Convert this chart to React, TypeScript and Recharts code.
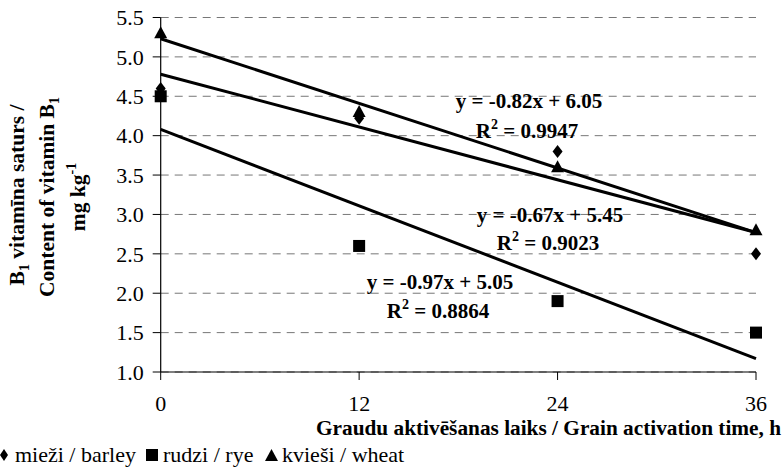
import React from 'react';
import { ComposedChart, Scatter, Line, XAxis, YAxis, CartesianGrid } from 'recharts';

const hours = [0, 12, 24, 36];
const barley = [4.6, 4.22, 3.8, 2.5];
const rye = [4.5, 2.6, 1.9, 1.5];
const wheat = [5.3, 4.3, 3.6, 2.8];

// trend line ends (at 0 h and 36 h)
const trendHours = [0, 36];
const barleyTrend = [4.78, 2.77];
const ryeTrend = [4.08, 1.17];
const wheatTrend = [5.23, 2.77];

const yTicks = [1.0, 1.5, 2.0, 2.5, 3.0, 3.5, 4.0, 4.5, 5.0, 5.5];

const toPoints = (xs: number[], ys: number[]) => xs.map((x, i) => ({ x, y: ys[i] }));

const FONT = 'Liberation Serif';

const Diamond = ({ cx, cy }: any) => (
  <path d={`M${cx},${cy - 6.5} L${cx + 5},${cy} L${cx},${cy + 6.5} L${cx - 5},${cy} Z`} fill="#000" />
);
const Square = ({ cx, cy }: any) => <rect x={cx - 6} y={cy - 6} width={12} height={12} fill="#000" />;
const Triangle = ({ cx, cy }: any) => (
  <path d={`M${cx},${cy - 7} L${cx + 6.5},${cy + 5} L${cx - 6.5},${cy + 5} Z`} fill="#000" />
);

const eqStyle: React.CSSProperties = { fontFamily: FONT, fontWeight: 'bold', fontSize: 21 };

export default function App() {
  return (
    <div style={{ position: 'absolute', left: 0, top: 0, width: 783, height: 468, background: '#fff' }}>
      <ComposedChart
        width={783}
        height={468}
        margin={{ top: 17.5, right: 27, left: 100, bottom: 40 }}
      >
        <CartesianGrid vertical={false} stroke="#777" strokeDasharray="8 6" />
        <XAxis
          type="number"
          dataKey="x"
          domain={[0, 36]}
          ticks={hours}
          height={56}
          axisLine={{ stroke: '#000', strokeWidth: 1.2 }}
          tickLine={{ stroke: '#000' }}
          tickSize={8}
          tickMargin={15}
          tick={{ fill: '#000', fontFamily: FONT, fontSize: 22 }}
        />
        <YAxis
          type="number"
          domain={[1, 5.5]}
          ticks={yTicks}
          width={60.7}
          axisLine={{ stroke: '#000', strokeWidth: 1.2 }}
          tickLine={{ stroke: '#000' }}
          tickSize={8}
          tickMargin={9}
          tickFormatter={(v: number) => v.toFixed(1)}
          tick={{ fill: '#000', fontFamily: FONT, fontSize: 22 }}
        />
        <Line data={toPoints(trendHours, wheatTrend)} dataKey="y" stroke="#000" strokeWidth={3} dot={false} isAnimationActive={false} />
        <Line data={toPoints(trendHours, barleyTrend)} dataKey="y" stroke="#000" strokeWidth={3} dot={false} isAnimationActive={false} />
        <Line data={toPoints(trendHours, ryeTrend)} dataKey="y" stroke="#000" strokeWidth={3} dot={false} isAnimationActive={false} />
        <Scatter data={toPoints(hours, rye)} dataKey="y" shape={Square} isAnimationActive={false} />
        <Scatter data={toPoints(hours, barley)} dataKey="y" shape={Diamond} isAnimationActive={false} />
        <Scatter data={toPoints(hours, wheat)} dataKey="y" shape={Triangle} isAnimationActive={false} />
      </ComposedChart>
      <svg width={783} height={468} style={{ position: 'absolute', left: 0, top: 0, pointerEvents: 'none' }}>
        {/* trend equations */}
        <text x={529} y={108} textAnchor="middle" style={eqStyle}>y = -0.82x + 6.05</text>
        <text x={527} y={138} textAnchor="middle" style={eqStyle}>R<tspan dy={-9} fontSize={14}>2</tspan><tspan dy={9}> = 0.9947</tspan></text>
        <text x={550} y={222} textAnchor="middle" style={eqStyle}>y = -0.67x + 5.45</text>
        <text x={548} y={250} textAnchor="middle" style={eqStyle}>R<tspan dy={-9} fontSize={14}>2</tspan><tspan dy={9}> = 0.9023</tspan></text>
        <text x={440} y={289} textAnchor="middle" style={eqStyle}>y = -0.97x + 5.05</text>
        <text x={438} y={318} textAnchor="middle" style={eqStyle}>R<tspan dy={-9} fontSize={14}>2</tspan><tspan dy={9}> = 0.8864</tspan></text>

        {/* y axis title */}
        <g style={{ fontFamily: FONT, fontWeight: 'bold', fontSize: 21.5 }}>
          <text transform="translate(24,195) rotate(-90)" textAnchor="middle">
            B<tspan dy={5} fontSize={14}>1</tspan><tspan dy={-5}> vitamīna saturs /</tspan>
          </text>
          <text transform="translate(54,197) rotate(-90)" textAnchor="middle">
            Content of vitamin B<tspan dy={5} fontSize={14}>1</tspan>
          </text>
          <text transform="translate(85,197) rotate(-90)" textAnchor="middle">
            mg kg<tspan dy={-9} fontSize={14}>-1</tspan>
          </text>
        </g>

        {/* x axis title */}
        <text x={781} y={435} textAnchor="end" style={{ fontFamily: FONT, fontWeight: 'bold', fontSize: 21.3 }}>
          Graudu aktivēšanas laiks / Grain activation time, h
        </text>

        {/* legend */}
        <g style={{ fontFamily: FONT, fontSize: 22 }}>
          <path d="M4,449 L8,455 L4,461 L0,455 Z" fill="#000" />
          <text x={15} y={462}>mieži / barley</text>
          <rect x={146} y={449} width={12} height={12} fill="#000" />
          <text x={163} y={462}>rudzi / rye</text>
          <path d="M271.5,449 L278,461 L265,461 Z" fill="#000" />
          <text x={282} y={462}>kvieši / wheat</text>
        </g>
      </svg>
    </div>
  );
}
